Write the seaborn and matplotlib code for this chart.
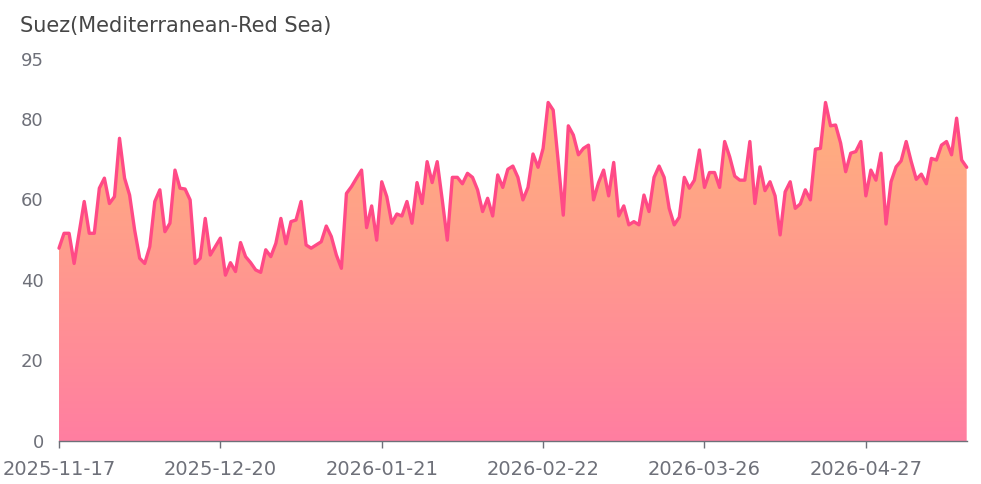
import numpy as np
import matplotlib
matplotlib.use("Agg")
import matplotlib.pyplot as plt
import seaborn as sns
from matplotlib.colors import LinearSegmentedColormap

# ---------------- data ----------------
title = "Suez(Mediterranean-Red Sea)"
tick_labels = ["2025-11-17", "2025-12-20", "2026-01-21", "2026-02-22", "2026-03-26", "2026-04-27"]
tick_every = 32
values = [
    47.9, 51.6, 51.6, 44.1, 51.8, 59.5, 51.6, 51.6, 62.8, 65.3, 59.0, 60.7, 75.2, 65.3, 61.1, 52.4, 45.4, 44.1, 48.3, 59.5, 62.4,
    52.0, 54.1, 67.3, 62.8, 62.6, 59.9, 44.1, 45.4, 55.3, 46.2, 48.3, 50.4, 41.2, 44.3, 42.1, 49.3, 45.8, 44.3, 42.5, 41.9, 47.5,
    45.8, 49.1, 55.3, 49.0, 54.5, 54.9, 59.5, 48.7, 47.9, 48.7, 49.5, 53.4, 50.8, 46.2, 42.9, 61.5, 63.2, 65.3, 67.3, 53.0, 58.4,
    49.9, 64.4, 60.7, 54.1, 56.4, 55.9, 59.5, 54.1, 64.2, 59.0, 69.4, 64.2, 69.4, 59.9, 49.9, 65.5, 65.5, 63.9, 66.5, 65.5,
    62.4, 57.0, 60.3, 55.9, 66.1, 63.0, 67.5, 68.3, 65.5, 59.9, 63.0, 71.3, 68.0, 72.7, 84.1, 82.2, 69.4, 56.1, 78.3, 76.0, 71.1,
    72.7, 73.5, 59.9, 64.2, 67.3, 60.9, 69.2, 55.9, 58.4, 53.7, 54.5, 53.7, 61.1, 57.0, 65.5, 68.3, 65.5, 57.8, 53.7, 55.6, 65.5,
    62.8, 64.8, 72.3, 63.0, 66.7, 66.7, 63.0, 74.4, 70.6, 65.8, 64.8, 64.8, 74.4, 59.0, 68.1, 62.2, 64.4, 60.9, 51.2, 61.9, 64.4,
    57.8, 58.9, 62.4, 59.9, 72.5, 72.7, 84.1, 78.3, 78.5, 74.0, 66.9, 71.5, 71.9, 74.4, 60.9, 67.3, 64.8, 71.5, 53.9, 64.4, 68.1,
    69.6, 74.4, 69.4, 65.0, 66.3, 63.9, 70.2, 69.8, 73.5, 74.4, 71.1, 80.2, 69.8, 68.0,
]
y_ticks = [0, 20, 40, 60, 80, 95]
y_max = 95

# ---------------- style ----------------
sns.set_theme(style="white")
plt.rcParams["font.family"] = ["DejaVu Sans"]

W, H = 981, 484
fig = plt.figure(figsize=(W / 100, H / 100), dpi=100)
left, right = 59, 966.7
top, bottom = 58.6, 441
ax = fig.add_axes([left / W, 1 - bottom / H, (right - left) / W, (bottom - top) / H])

x = np.arange(len(values))
y = np.array(values)

line_color = "#FF4A86"
c_top = "#FFB27C"
c_bot = "#FF7EA1"

# gradient fill under the line
fill = ax.fill_between(x, 0, y, color="none", linewidth=0)
cmap = LinearSegmentedColormap.from_list("g", [c_bot, c_top])
grad = np.linspace(0, 1, 256).reshape(-1, 1)
im = ax.imshow(grad, cmap=cmap, aspect="auto", origin="lower",
               extent=[x[0], x[-1], 0, y.max()], zorder=1)
im.set_clip_path(fill.get_paths()[0], transform=ax.transData)

sns.lineplot(x=x, y=y, ax=ax, color=line_color, linewidth=2.4, zorder=3)
ax.lines[-1].set_clip_on(False)
ax.lines[-1].set_solid_joinstyle("round")

ax.set_xlim(x[0], x[-1])
ax.set_ylim(0, y_max)

axis_color = "#6E7079"
ax.set_yticks(y_ticks)
ax.set_yticklabels([str(v) for v in y_ticks])
ax.set_xticks(np.arange(0, len(values), tick_every)[: len(tick_labels)])
ax.set_xticklabels(tick_labels)

ax.tick_params(axis="y", length=0, pad=11, labelsize=13, labelcolor=axis_color)
ax.tick_params(axis="x", length=5, width=1, color=axis_color, direction="out",
               pad=9, labelsize=14, labelcolor=axis_color, bottom=True)

for s in ["top", "right", "left"]:
    ax.spines[s].set_visible(False)
ax.spines["bottom"].set_color(axis_color)
ax.spines["bottom"].set_linewidth(1)
ax.grid(False)
ax.set_xlabel("")
ax.set_ylabel("")

fig.text(20 / W, 1 - 32 / H, title, fontsize=15, color="#464646",
         ha="left", va="baseline")

fig.savefig("out.png", dpi=100, facecolor="white")
